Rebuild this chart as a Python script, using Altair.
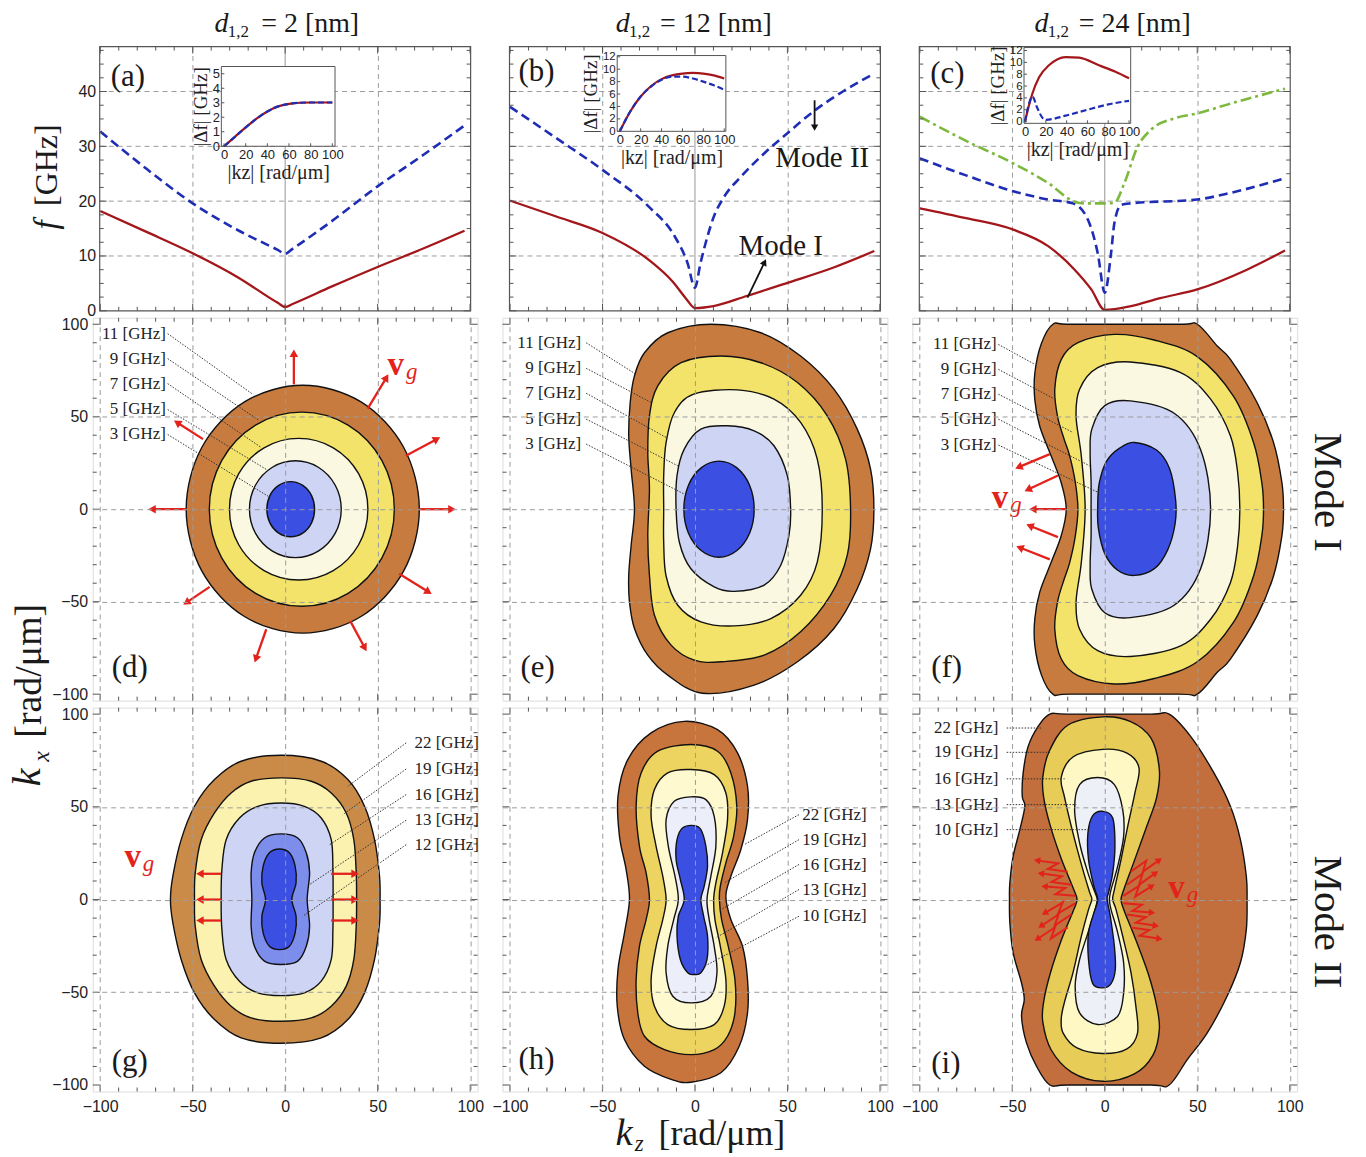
import numpy as np
import pandas as pd
import altair as alt

# ======================= DATA =======================
# --- top row: dispersion f(kz) [GHz] ---
A_KZ = [-100, -75, -50, -25, -4, 0, 4, 25, 50, 75, 97]
A_MODE1 = [18.2, 14.4, 10.5, 6.0, 1.45, 0.7, 1.25, 4.4, 8.0, 11.4, 14.6]
A_MODE2 = [32.7, 25.9, 19.6, 14.6, 11.1, 10.4, 11.3, 16.3, 22.7, 28.5, 33.8]

B_KZ1 = [-100, -75, -50, -25, -12, -5, 0, 5, 10, 28, 50, 75, 97]
B_MODE1 = [20.1, 17.2, 14.2, 9.3, 5.3, 2.3, 0.5, 0.6, 0.85, 2.7, 5.1, 7.9, 10.9]
B_KZ2 = [-100, -75, -50, -25, -11, -4, 0, 3, 6.8, 10, 15.8, 25, 37.4, 50, 65, 80, 97]
B_MODE2 = [37.2, 31.5, 25.7, 19.0, 13.6, 8.7, 4.2, 8.7, 13.6, 17.0, 20.8, 24.5, 28.7, 32.4, 36.6, 40.0, 43.3]

C_KZ1 = [-100, -75, -49.5, -30.6, -16.3, -7.3, 0, 14.2, 30, 50, 76.9, 97.5]
C_MODE1 = [18.7, 16.9, 14.8, 11.8, 7.5, 3.9, 0.15, 0.85, 2.3, 3.9, 7.5, 11.0]
C_KZ2 = [-100, -75, -49.5, -30.6, -17.2, -9.1, -3.8, 0, 3.4, 5.2, 8.8, 14.2, 50, 67.9, 97.5]
C_MODE2 = [27.8, 24.7, 21.8, 20.3, 19.6, 16.6, 10.5, 3.3, 10.5, 16.0, 19.3, 19.6, 20.3, 21.5, 24.2]
C_KZ3 = [-100, -75, -49.5, -30.6, -16.3, -10.9, 0, 5.2, 10.6, 17.7, 24.9, 37.5, 50, 67.9, 97.5]
C_MODE3 = [35.4, 31.0, 26.9, 23.3, 19.9, 19.6, 19.6, 19.7, 23.3, 29.9, 33.0, 35.1, 36.0, 37.8, 40.5]

# --- insets |Δf|(|kz|) ---
INSET_KZ = [0, 10, 20, 30, 40, 50, 60, 70, 80, 90, 100]
A_DF1 = [0, 0.65, 1.3, 1.9, 2.4, 2.75, 2.92, 3.0, 3.02, 3.02, 3.02]
A_DF2 = [0, 0.65, 1.3, 1.9, 2.4, 2.75, 2.92, 3.0, 3.02, 3.02, 3.02]
B_DF1 = [0, 3.2, 5.6, 7.3, 8.4, 9.0, 9.3, 9.4, 9.3, 9.0, 8.5]
B_DF2 = [0, 3.2, 5.6, 7.2, 8.3, 8.8, 8.8, 8.5, 8.0, 7.4, 6.7]
C_DF_KZ1 = [0, 3, 7, 13.5, 23, 39, 52, 71, 87, 100]
C_DF1 = [0, 2.2, 4.7, 7.5, 9.5, 10.9, 10.8, 9.5, 8.4, 7.3]
C_DF_KZ2 = [0, 3, 7, 12, 18, 20, 39, 60, 80, 100]
C_DF2 = [0, 2.5, 4.2, 2.2, 0.4, 0.3, 1.0, 2.0, 2.9, 3.5]

# --- iso-frequency contours (kz, kx), outer -> inner ---
D11 = [(9.5, 67), (41, 58), (64, 33.5), (72.5, 0), (64, -33.5), (41, -58), (9.5, -67), (-22, -58), (-45, -33.5), (-53.5, 0), (-45, 33.5), (-22, 58)]
D9 = [(9, 52.5), (34, 45.5), (52.3, 26.3), (59, 0), (52.3, -26.3), (34, -45.5), (9, -52.5), (-16, -45.5), (-34.3, -26.3), (-41, 0), (-34.3, 26.3), (-16, 45.5)]
D7 = [(7.3, 38.3), (26, 33.2), (39.7, 19.2), (44.7, 0), (39.7, -19.2), (26, -33.2), (7.3, -38.3), (-11.4, -33.2), (-25.1, -19.2), (-30.1, 0), (-25.1, 19.2), (-11.4, 33.2)]
D5 = [(5.5, 26.2), (17.9, 22.7), (27, 13.1), (30.3, 0), (27, -13.1), (17.9, -22.7), (5.5, -26.2), (-6.9, -22.7), (-16, -13.1), (-19.3, 0), (-16, 13.1), (-6.9, 22.7)]
D3 = [(3, 14.9), (9.5, 12.9), (14.2, 7.5), (15.9, 0), (14.2, -7.5), (9.5, -12.9), (3, -14.9), (-3.5, -12.9), (-8.2, -7.5), (-9.9, 0), (-8.2, 7.5), (-3.5, 12.9)]

E11 = [(8.6, 100), (35.6, 95.4), (57.1, 82.8), (75.1, 64.9), (87.7, 43.3), (94.9, 21.7), (96.7, 0), (94.9, -21.4), (87.7, -43), (75.1, -64.5), (55.4, -82.5), (32, -95.1), (4, -99.5), (-14.7, -89.7), (-25.5, -78.9), (-32.7, -64.5), (-35.4, -50.1), (-35.8, -35.8), (-34.5, -19.6), (-32.7, 0), (-34.5, 21.7), (-35.8, 39.7), (-35, 57.7), (-32.7, 72.1), (-27.3, 84.6), (-14.7, 95.4)]
E9 = [(14, 82.8), (35.6, 79.2), (55.4, 68.5), (71.5, 50.5), (81.4, 27.1), (84.1, 0), (82.3, -25), (73.3, -46.5), (57.1, -66.3), (37.4, -78.9), (14, -82.5), (-0.4, -81.6), (-12.9, -73.5), (-21.9, -57.3), (-24.6, -35.8), (-25.5, -14.2), (-24.6, 10.9), (-25.5, 30.7), (-24.6, 50.5), (-20.1, 66.7), (-7.5, 79.2)]
E7 = [(23, 64.5), (42.7, 59.5), (57.1, 46.9), (66.1, 27.1), (68.8, 0), (66.1, -28.6), (57.1, -46.5), (41, -59.1), (21.2, -63.1), (3.2, -60.9), (-9.3, -51.9), (-15.6, -36.1), (-16.9, -18), (-16.9, 0), (-16.9, 18.2), (-15.6, 36.1), (-11.1, 52.3), (-0.7, 62.2)]
E5 = [(17.6, 45.1), (32, 42.4), (42.7, 34.3), (49.9, 18.2), (51.7, 0), (50.8, -14.2), (46.3, -30.4), (37.4, -41), (21.2, -44.4), (10.4, -42), (-2.2, -32.2), (-8.4, -18), (-10.2, 0), (-9.7, 18.2), (-5.8, 32.5), (3.2, 43.3)]
E3 = [(13, 26), (22.5, 22.5), (29.5, 13), (32, 0), (29.5, -13), (22.5, -22.5), (13, -26), (3.5, -22.5), (-3.5, -13), (-6, 0), (-3.5, 13), (3.5, 22.5)]

F11 = [(-28, 100), (-18, 100), (40, 100), (50, 100), (60.8, 88.2), (67.9, 81), (82.3, 57.7), (91.2, 36.1), (95.7, 14.6), (96.6, 0), (95.7, -14.6), (91.2, -36.1), (82.3, -57.7), (67.9, -81), (60.8, -88.2), (50, -100), (40, -100), (-18, -100), (-28, -100), (-34.2, -89.7), (-37.8, -73.5), (-37.8, -59.1), (-35.1, -44.7), (-28.9, -28.6), (-23.5, -14.2), (-20.8, 0), (-23.5, 14.2), (-28.9, 28.6), (-35.1, 44.7), (-37.8, 59.1), (-37.8, 73.5), (-34.2, 89.7)]
F9 = [(5.2, 94.5), (26.7, 91.5), (50, 82.5), (69.7, 60.9), (80.5, 35.8), (84.9, 14.2), (85.8, 0), (84.9, -14.2), (80.5, -35.8), (69.7, -60.9), (50, -82.5), (26.7, -91.5), (5.2, -94.5), (-14.5, -90), (-23.5, -81), (-27, -65), (-25.5, -50), (-22, -38), (-19, -29), (-16, -15), (-14.5, 0), (-16, 15), (-19, 29), (-22, 38), (-25.5, 50), (-27, 65), (-23.5, 81), (-14.5, 90)]
F7 = [(13.8, 79.6), (41, 73.9), (57.2, 59.5), (67.9, 39.7), (71.8, 20), (73, 0), (71.8, -20), (67.9, -39.7), (57.2, -59.5), (41, -73.9), (13.8, -79.6), (-3.8, -76.5), (-13.6, -64.9), (-15.5, -50), (-12.7, -29), (-10.6, 0), (-12.7, 29), (-15.5, 50), (-13.6, 64.9), (-3.8, 76.5)]
F5 = [(13.8, 58.6), (37.5, 51.9), (51.8, 32.2), (57.2, 0), (51.8, -32.2), (37.5, -51.9), (13.8, -58.6), (0, -56), (-7, -43.3), (-7.9, -30.7), (-7.4, -15), (-7.4, 0), (-7.4, 15), (-7.9, 30.7), (-7, 43.3), (0, 56)]
F3 = [(16, 36.1), (28, 32), (35, 22), (38.3, 5), (38, -8), (34, -22), (27, -32), (16, -35.8), (7, -33), (0, -24), (-3.5, -10), (-3.8, 2), (-3, 14), (1, 26), (8, 33)]

G22 = [(-2.2, 77.8), (19.5, 74.6), (33.9, 64.7), (42.9, 50.3), (48.3, 32.3), (51, 12.6), (51.3, 0), (51, -12.6), (48.3, -32.3), (42.9, -50.3), (33.9, -64.7), (19.5, -74.6), (-2.2, -77.5), (-23.8, -74.6), (-38.2, -64.7), (-49, -50.3), (-56.2, -32.3), (-60.7, -12.6), (-62, 0), (-60.7, 12.6), (-56.2, 32.3), (-49, 50.3), (-38.2, 64.7), (-23.8, 74.6)]
G19 = [(-2.2, 65.6), (14.1, 63.8), (24.9, 57.5), (33, 46.7), (37.1, 32.3), (38.4, 14.4), (38.6, 0), (38.4, -14.4), (37.1, -32.3), (33, -46.7), (24.9, -57.5), (14.1, -63.8), (-2.2, -65.6), (-18.4, -63.8), (-29.2, -57.5), (-38.2, -46.7), (-45.4, -32.3), (-48.6, -14.4), (-49, 0), (-48.6, 14.4), (-45.4, 32.3), (-38.2, 46.7), (-29.2, 57.5), (-18.4, 63.8)]
G16 = [(-2.2, 52.1), (10.4, 50.3), (19.5, 44), (24.9, 32.3), (25.8, 16.2), (25.9, 0), (25.8, -16.2), (24.9, -32.3), (19.5, -44), (10.4, -50.3), (-2.2, -51.8), (-14.8, -50.3), (-24.7, -44), (-31.9, -32.3), (-34.2, -16.2), (-34.6, 0), (-34.2, 16.2), (-31.9, 32.3), (-24.7, 44), (-14.8, 50.3)]
G13 = [(-2.2, 35.4), (6.8, 33.2), (11.4, 25.2), (13.2, 14.4), (11.9, 0), (13.2, -14.4), (11.4, -25.2), (6.8, -33.2), (-2.2, -35), (-11.2, -33.2), (-16.6, -25.2), (-18.4, -14.4), (-18, 0), (-18.4, 14.4), (-16.6, 25.2), (-11.2, 33.2)]
G12 = [(-3.1, 27.3), (2.3, 25.2), (5.4, 18), (5.9, 9), (3.6, 0), (5.9, -9), (5.4, -18), (2.3, -25.2), (-3.1, -27), (-8.5, -25.2), (-11.9, -18), (-12.6, -9), (-10.6, 0), (-12.6, 9), (-11.9, 18), (-8.5, 25.2)]

H22 = [(-5.8, 96.1), (12.2, 91.6), (23, 79.1), (28.4, 61.1), (28.4, 43.1), (24.8, 27), (19.4, 12.6), (16.7, 1.8), (19.4, -10.8), (25.7, -25.2), (28.4, -43.1), (28.4, -61.1), (23.9, -79.1), (14, -93.4), (-2.2, -98.5), (-12.9, -97), (-27.3, -89.9), (-38.1, -75.5), (-42, -57.5), (-41.6, -37.7), (-38.1, -18), (-35.4, 0), (-37.2, 16.2), (-40.8, 34.1), (-41.6, 55.7), (-36.3, 75.5), (-23.7, 89.9)]
H19 = [(-2.2, 83.6), (12.2, 80), (19.4, 68.3), (22.6, 50.3), (20.9, 34.1), (16.7, 19.8), (13.7, 7.2), (13.2, 0), (14.4, -10.8), (18, -25.2), (21.6, -43.1), (21.6, -61.1), (17.6, -73.7), (10.4, -80.9), (-2.2, -83.6), (-16.5, -80.9), (-27.3, -73.7), (-30.9, -61.1), (-31.8, -43.1), (-30, -25.2), (-26.4, -10.8), (-24.6, 0), (-26.4, 14.4), (-30, 28.7), (-31.8, 50.3), (-29.1, 68.3), (-20.1, 80)]
H16 = [(-2.2, 70.1), (10.4, 67.4), (16.7, 57.5), (17.6, 43.1), (14.9, 25.2), (11.3, 9), (10.1, 0), (10.8, -10.8), (13.7, -25.2), (16.7, -43.1), (15.8, -57.5), (10.4, -67.4), (-2.2, -70.1), (-14.7, -67.4), (-21.9, -57.5), (-23.7, -43.1), (-21, -25.2), (-17.4, -10.8), (-15.6, 0), (-17.4, 12.6), (-21, 28.7), (-23.7, 44.9), (-21.9, 59.3), (-14.7, 68.3)]
H13 = [(-2.2, 55.4), (5.9, 53.9), (10.4, 44.9), (11.3, 28.7), (8.6, 12.6), (6.5, 0), (7.7, -10.8), (10.4, -25.2), (11.9, -39.5), (8.6, -52.1), (-2.2, -55.7), (-12, -52.1), (-15.6, -39.5), (-14.7, -25.2), (-11.5, -10.8), (-9, 0), (-10.8, 12.6), (-14.4, 28.7), (-15.6, 43.1), (-11.2, 53)]
H10 = [(-0.4, 39.9), (3.2, 37.7), (5.9, 28.7), (6.8, 18), (5, 7.2), (3.2, 0), (4.7, -9), (6.8, -19.8), (6.5, -32.3), (3.2, -39.5), (-0.4, -40.4), (-3.9, -39.5), (-7.9, -32.3), (-9.7, -19.8), (-9, -9), (-5.8, 0), (-7.9, 10.8), (-10.2, 21.6), (-9.7, 32.3), (-6.6, 38.7)]

I22 = [(-29.7, 100), (-20, 100), (25, 100), (34.8, 100), (46.4, 88), (59, 68.3), (67.9, 50.3), (73.3, 32.3), (76.5, 12.6), (76.9, 0), (76.5, -16.2), (73.3, -34.1), (66.1, -52.1), (55.4, -71.9), (44.6, -86.3), (34.8, -100), (25, -100), (-20, -100), (-29.7, -100), (-36.9, -89.9), (-42.3, -77.3), (-45, -62.9), (-43.5, -53.9), (-45, -44.9), (-49.5, -28.7), (-51.3, -12.6), (-51.5, 0), (-51.3, 9), (-49.5, 23.4), (-45.9, 37.7), (-43.2, 50.3), (-44.6, 55.7), (-44.1, 68.3), (-41.4, 82.6), (-36, 93.4)]
I19 = [(-1, 98.5), (14, 96), (25, 87), (29.5, 70), (28, 55), (22.5, 39), (16, 21), (10.5, 6), (8.8, 0), (10.5, -6), (16.5, -21), (23.5, -40), (28, -57), (29.5, -70), (26, -84), (16, -94), (-1, -98), (-18, -93), (-29, -81), (-33.5, -66), (-33, -55), (-29.5, -40), (-23.5, -22), (-17, -6), (-15, 0), (-17, 6), (-23.5, 22), (-29.5, 40), (-33, 55), (-33.5, 66), (-30, 80), (-20, 94)]
I16 = [(-1, 81), (12, 79), (18.5, 71), (16.3, 57.5), (12.4, 39.5), (8.8, 21.6), (5.2, 5.4), (4.3, 0), (6.1, -5.4), (9.7, -19.8), (14.2, -39.5), (16.8, -57.5), (17.7, -72), (12, -80.5), (-1, -83), (-15, -80), (-22.5, -72), (-23.5, -64), (-21.7, -55), (-17.2, -39.5), (-12.7, -20), (-8.8, -5.4), (-7, 0), (-8.2, 4), (-11.8, 16), (-17.2, 36), (-21.7, 55), (-23.5, 66), (-17, 77)]
I13 = [(-3.8, 65.8), (5.2, 62), (9.7, 48.5), (10.2, 34.1), (7, 18), (3.4, 5.4), (2.5, 0), (3.4, -5.4), (7, -18), (10.2, -34.1), (10.2, -50.3), (7, -62.9), (-3.8, -67.4), (-13.6, -61.1), (-16, -46.7), (-13.6, -32.3), (-9.1, -18), (-5.2, -5.4), (-4.1, 0), (-5.2, 3.6), (-9.1, 14.4), (-13.6, 30.5), (-16.3, 48.5), (-13.6, 62)]
I10 = [(-1.1, 47.6), (4.3, 44), (5.5, 28.7), (4.3, 14.4), (2, 3.6), (1.3, 0), (3, -9), (5.2, -25.2), (5.7, -37.7), (3.4, -45.3), (-1.1, -47.6), (-6.5, -45.3), (-8.8, -32.3), (-8.8, -18), (-5.9, -7.2), (-3.8, 0), (-5.9, 7.2), (-8.8, 21.6), (-9.1, 36), (-6.5, 45.3)]

# --- contour labels ---
MODE1_LABELS = ["11 [GHz]", "9 [GHz]", "7 [GHz]", "5 [GHz]", "3 [GHz]"]
GH_LABELS_G = ["22 [GHz]", "19 [GHz]", "16 [GHz]", "13 [GHz]", "12 [GHz]"]
GH_LABELS_HI = ["22 [GHz]", "19 [GHz]", "16 [GHz]", "13 [GHz]", "10 [GHz]"]
D_LAB_KX = [94.9, 81.4, 67.9, 53.9, 40.4]
D_LEAD_END = [(-17.3, 62), (-14.1, 48), (-13, 33.4), (-10.3, 21.6), (-9.2, 7)]
E_LAB_KX = [90, 76.2, 62.7, 48.7, 35.2]
E_LEAD_END = [(-31.8, 72.9), (-23.7, 57.7), (-15.6, 38.8), (-9.3, 23.5), (-5.8, 8.2)]
F_LAB_KX = [89.1, 75.6, 62.2, 48.7, 34.7]
F_LEAD_END = [(-37.8, 78.3), (-27, 59.5), (-17.2, 41.5), (-8.2, 23.5), (-3.8, 9.2)]
G_LAB_KX = [84.5, 70.4, 56.6, 42.8, 29.6]
G_LEAD_END = [(33.9, 61.1), (31.2, 45.8), (24, 29.6), (13.2, 8.1), (9.5, -9)]
H_LAB_KX = [45.8, 32.3, 18.9, 5.4, -9]
H_LEAD_END = [(26.6, 29.6), (15.8, 9), (14, -5.4), (11.3, -20.6), (5, -36)]
I_LAB_KX = [92.5, 79.4, 65.1, 51.2, 37.7]
I_LEAD_END = [(-34.2, 92.5), (-28.9, 79.4), (-21.7, 65.1), (-15.4, 51.2), (-9.1, 37.7)]

# --- group-velocity arrows (tail -> head) ---
D_ARROW_TAIL = [(4.7, 67.5), (44.6, 54.4), (65.2, 28.9), (72.4, 0), (61.6, -34.9), (35.2, -60.5), (-10.2, -64.9), (-40.8, -42.0), (-53.4, 0), (-44.4, 37.9)]
D_ARROW_HEAD = [(4.7, 83.7), (54.4, 70.6), (81.4, 37.6), (89.5, 0), (76.9, -44.4), (42.7, -74.4), (-15.6, -80.3), (-52.8, -50.1), (-71.3, 0), (-57.8, 46.5)]
F_ARROW_TAIL = [(-29.7, 29.8), (-25.3, 18.2), (-20.8, 0), (-25.3, -15.1), (-29.7, -27.1)]
F_ARROW_HEAD = [(-45.9, 23.0), (-40.9, 10.9), (-38.2, 0), (-39.9, -9.2), (-45.3, -21.0)]
G_ARROW_TAIL = [(-34.6, 13.9), (-34.6, 0), (-34.6, -11.3), (24.9, 13.9), (24.9, 0), (24.9, -11.3)]
G_ARROW_HEAD = [(-45.4, 13.9), (-45.4, 0), (-45.4, -11.3), (37.1, 13.9), (37.1, 0), (37.1, -11.3)]
I_BOLT_TAIL = [(-20, 15), (-18, 8), (-16, 2), (-20, -15), (-18, -8), (-16, -2), (14, 15), (12, 8), (10, 2), (14, -15), (12, -8), (10, -2)]
I_BOLT_HEAD = [(-36, 21), (-34, 14), (-32, 7), (-36, -21), (-34, -14), (-32, -7), (29, 21), (27, 14), (25, 7), (29, -21), (27, -14), (25, -7)]
B_MODE_ARROW_TAIL = [(64.7, 38.4), (28.4, 2.4)]
B_MODE_ARROW_HEAD = [(64.7, 33.6), (37.4, 8.7)]

# --- ticks ---
K_MAJOR = [-100, -50, 0, 50, 100]
K_MINOR = [-90, -80, -70, -60, -40, -30, -20, -10, 10, 20, 30, 40, 60, 70, 80, 90]
F_MAJOR = [0, 10, 20, 30, 40]
F_GRID = [10, 20, 30, 40]
F_MINOR = [2.5, 5, 7.5, 12.5, 15, 17.5, 22.5, 25, 27.5, 32.5, 35, 37.5, 42.5, 45, 47.5]
INSET_X_TICKS = [0, 20, 40, 60, 80, 100]
INSET_Y_TICKS_A = [0, 1, 2, 3, 4, 5]
INSET_Y_TICKS_BC = [0, 2, 4, 6, 8, 10, 12]

# ======================= STYLE / LAYOUT =======================
SERIF = "Liberation Serif"
SANS = "Liberation Sans"
INK = "#1a1a1a"
RED = "#A3161A"
BLUE = "#1E2DB4"
GREEN = "#7DB83F"
ARED = "#E3221C"
GRIDC = "#9C9C9C"
FRAMEC = "#555555"

PAL_D = ["#C77B3F", "#F3E36B", "#FAF8E0", "#CDD4F4", "#3B4FE2"]
PAL_G = ["#CB8B48", "#FAF2AE", "#CDD4F4", "#7D8DEC", "#3B4FE2"]
PAL_H = ["#C8743D", "#EDD35F", "#FEF9CF", "#ECEEF9", "#3B4FE2"]
PAL_I = ["#C26E3D", "#E7CC58", "#FDF8C4", "#EEF0F7", "#3B4FE2"]

W1, H1 = 372, 265          # top-row frame
W2, H2, H3 = 386, 384, 385  # contour frames
PADX = (W2 - W1) / 2        # top-row frame is centred in a W2-wide cell
X1_DOM = [-100.3, 100.3]
Y1_DOM = [0, 48.2]
XC_DOM = [-104, 104]
YC_DOM = [-103.5, 103.5]
LETTER_SIZE = 31
TICK_LABEL_SIZE = 16

ONE = pd.DataFrame({"o": [0]})


def sc(dom, rng=None):
    if rng is None:
        return alt.Scale(domain=dom, nice=False, zero=False)
    return alt.Scale(domain=dom, range=rng, nice=False, zero=False)


def tpx(text, x, y, size, font=SERIF, style="normal", weight="normal",
        align="center", baseline="alphabetic", angle=None, color=INK):
    kw = dict(text=text, font=font, fontSize=size, fontStyle=style,
              fontWeight=weight, align=align, baseline=baseline, color=color)
    if angle is not None:
        kw["angle"] = angle
    return alt.Chart(ONE).mark_text(**kw).encode(x=alt.value(x), y=alt.value(y))


def anchor(x, y):
    return alt.Chart(ONE).mark_point(size=4, filled=True, color="white", opacity=0).encode(
        x=alt.value(x), y=alt.value(y))


def frame_ticks(X, Y, x0, x1, H, xmaj, xmin, ymaj, ymin, L=7, l=4):
    out = []
    for vals, ln in ((xmaj, L), (xmin, l)):
        base = alt.Chart(pd.DataFrame({"x": vals})).mark_rule(color=FRAMEC, strokeWidth=1)
        out.append(base.encode(x=X("x"), y=alt.value(H), y2=alt.value(H - ln)))
        out.append(base.encode(x=X("x"), y=alt.value(0), y2=alt.value(ln)))
    for vals, ln in ((ymaj, L), (ymin, l)):
        base = alt.Chart(pd.DataFrame({"y": vals})).mark_rule(color=FRAMEC, strokeWidth=1)
        out.append(base.encode(y=Y("y"), x=alt.value(x0), x2=alt.value(x0 + ln)))
        out.append(base.encode(y=Y("y"), x=alt.value(x1), x2=alt.value(x1 - ln)))
    return out


def arrows(X, Y, tails, heads, color, sx=1.0, sy=1.0, sw=2.3, size=75):
    df = pd.DataFrame({"x": [t[0] for t in tails], "y": [t[1] for t in tails],
                       "x2": [h[0] for h in heads], "y2": [h[1] for h in heads]})
    df["ang"] = np.degrees(np.arctan2((df.x2 - df.x) * sx, (df.y2 - df.y) * sy)) % 360
    rule = alt.Chart(df).mark_rule(color=color, strokeWidth=sw).encode(
        x=X("x"), y=Y("y"), x2="x2", y2="y2")
    head = alt.Chart(df).mark_point(shape="triangle", filled=True, color=color,
                                    size=size, opacity=1).encode(
        x=X("x2"), y=Y("y2"), angle=alt.Angle("ang:Q", scale=None))
    return [rule, head]


def bolts(X, Y, tails, heads, color):
    rows, hd = [], []
    for k, (t, h) in enumerate(zip(tails, heads)):
        t = np.array(t, float)
        h = np.array(h, float)
        d = h - t
        n = np.array([-d[1], d[0]]) / np.hypot(*d)
        pts = [t, t + 0.62 * d + 2.4 * n, t + 0.38 * d - 2.4 * n, h]
        for i, p in enumerate(pts):
            rows.append({"id": k, "i": i, "x": p[0], "y": p[1]})
        last = h - pts[2]
        hd.append({"x2": h[0], "y2": h[1],
                   "ang": float(np.degrees(np.arctan2(last[0], last[1])) % 360)})
    line = alt.Chart(pd.DataFrame(rows)).mark_line(color=color, strokeWidth=2).encode(
        x=X("x"), y=Y("y"), detail="id:N", order=alt.Order("i:Q"))
    head = alt.Chart(pd.DataFrame(hd)).mark_point(shape="triangle", filled=True, color=color,
                                                  size=55, opacity=1).encode(
        x=X("x2"), y=Y("y2"), angle=alt.Angle("ang:Q", scale=None))
    return [line, head]


def vg(x, y):
    return [tpx("v", x, y, 33, weight="bold", color=ARED),
            tpx("g", x + 16, y + 4, 23, style="italic", color=ARED)]


# ---------------------- top row ----------------------
def inset_layer(xl, xr, yt, yb, xdom, ydom, yvals, curves, ylabsize):
    xl, xr = xl + PADX, xr + PADX
    axx = alt.Axis(orient="bottom", offset=-(H1 - yb), values=INSET_X_TICKS, labelFont=SANS,
                   labelFontSize=13, labelColor="#222", labelPadding=2, ticks=False,
                   domain=False, grid=False, title="|kz| [rad/μm]", titleFont=SERIF,
                   titleFontSize=20, titleFontWeight="normal", titleColor="#222",
                   titlePadding=1, zindex=2)
    axy = alt.Axis(orient="left", offset=-xl, values=yvals, labelFont=SANS,
                   labelFontSize=ylabsize, labelColor="#222", labelPadding=2, ticks=False,
                   domain=False, grid=False, title="|Δf| [GHz]", titleFont=SERIF,
                   titleFontSize=19, titleFontWeight="normal", titleColor="#222",
                   titlePadding=2, zindex=2)
    XS, YS = sc(xdom, [xl, xr]), sc(ydom, [yb, yt])

    def X(f):
        return alt.X(f, type="quantitative", scale=XS, axis=axx)

    def Y(f):
        return alt.Y(f, type="quantitative", scale=YS, axis=axy)

    layers = [alt.Chart(ONE).mark_rect(fill="white", stroke=FRAMEC, strokeWidth=1).encode(
        x=alt.value(xl), x2=alt.value(xr), y=alt.value(yt), y2=alt.value(yb))]
    for kz, df_, color, dash in curves:
        mk = dict(color=color, strokeWidth=2.2, interpolate="monotone")
        if dash:
            mk["strokeDash"] = dash
        layers.append(alt.Chart(pd.DataFrame({"x": kz, "y": df_})).mark_line(**mk).encode(
            x=X("x"), y=Y("y")))
    layers.append(alt.Chart(pd.DataFrame({"x": INSET_X_TICKS})).mark_rule(
        color=FRAMEC, strokeWidth=1).encode(x=X("x"), y=alt.value(yb), y2=alt.value(yb - 3)))
    layers.append(alt.Chart(pd.DataFrame({"y": yvals})).mark_rule(
        color=FRAMEC, strokeWidth=1).encode(y=Y("y"), x=alt.value(xl), x2=alt.value(xl + 3)))
    return alt.layer(*layers)


def top_panel(series, inset, letter, letter_xy, left, extra):
    x0, x1 = PADX, PADX + W1
    axx = alt.Axis(values=[-50, 50], grid=True, gridDash=[5, 4], gridColor=GRIDC, labels=False,
                   ticks=False, domain=False, title=None)
    axy = alt.Axis(values=F_MAJOR, grid=False, offset=-x0,
                   labels=left, labelFont=SANS, labelFontSize=TICK_LABEL_SIZE, labelColor="#222",
                   labelPadding=4, ticks=False, domain=False, title=None)

    def X(f):
        return alt.X(f, type="quantitative", scale=sc(X1_DOM, [x0, x1]), axis=axx)

    def Y(f):
        return alt.Y(f, type="quantitative", scale=sc(Y1_DOM), axis=axy)

    layers = [
        alt.Chart(pd.DataFrame({"y": F_GRID})).mark_rule(
            color=GRIDC, strokeWidth=1, strokeDash=[5, 4]).encode(
            y=Y("y"), x=alt.value(x0), x2=alt.value(x1)),
        alt.Chart(pd.DataFrame({"x": [0]})).mark_rule(color="#8c8c8c", strokeWidth=0.9).encode(x=X("x")),
    ]
    for kz, f, color, dash, width in series:
        mk = dict(color=color, strokeWidth=width, interpolate="monotone")
        if dash:
            mk["strokeDash"] = dash
        layers.append(alt.Chart(pd.DataFrame({"x": kz, "y": f})).mark_line(**mk).encode(x=X("x"), y=Y("y")))
    layers += frame_ticks(X, Y, x0, x1, H1, K_MAJOR, K_MINOR, F_MAJOR, F_MINOR)
    layers.append(alt.Chart(ONE).mark_rect(fill="white", fillOpacity=0, stroke=FRAMEC, strokeWidth=1.2).encode(
        x=alt.value(x0), x2=alt.value(x1), y=alt.value(0), y2=alt.value(H1)))
    layers += extra(X, Y)
    layers.append(tpx(letter, letter_xy[0] + x0, letter_xy[1], LETTER_SIZE, align="left"))
    main = alt.layer(*layers)
    return alt.layer(main, inset_layer(**inset)).resolve_scale(
        x="independent", y="independent").properties(
        width=W2, height=H1, view=alt.ViewBackground(stroke="transparent"))


def col_title(num, xd, xs, xr):
    return [tpx("d", xd + PADX, -15, 28, style="italic"),
            tpx("1,2", xs + PADX, -10, 17),
            tpx("= " + num + " [nm]", xr + PADX, -15, 28, align="left")]


def extra_a(X, Y):
    return col_title("2", 122, 139, 162) + [
        tpx("[GHz]", -53 + PADX, 119, 32, baseline="middle", angle=270),
        tpx("f", -53 + PADX, 179, 33, style="italic", baseline="middle", angle=270)]


def extra_b(X, Y):
    mode_txt = pd.DataFrame({"x": [68.8, 46.4], "y": [27.8, 11.8], "t": ["Mode II", "Mode I"]})
    return col_title("12", 113.5, 130.5, 151) + [
        alt.Chart(mode_txt).mark_text(font=SERIF, fontSize=29, baseline="middle", color=INK).encode(
            x=X("x"), y=Y("y"), text="t:N")
    ] + arrows(X, Y, B_MODE_ARROW_TAIL, B_MODE_ARROW_HEAD, "#111", sx=1.86, sy=5.5, sw=1.8, size=55)


def extra_c(X, Y):
    return col_title("24", 122.5, 139.5, 160)


panel_a = top_panel(
    [(A_KZ, A_MODE1, RED, None, 2.3), (A_KZ, A_MODE2, BLUE, [9, 5], 2.6)],
    dict(xl=122, xr=236, yt=20, yb=100, xdom=[-2.5, 102.5], ydom=[0, 5.5],
         yvals=INSET_Y_TICKS_A, ylabsize=13,
         curves=[(INSET_KZ, A_DF1, RED, None), (INSET_KZ, A_DF2, BLUE, [6, 3])]),
    "(a)", (11, 40), True, extra_a)

panel_b = top_panel(
    [(B_KZ1, B_MODE1, RED, None, 2.3), (B_KZ2, B_MODE2, BLUE, [9, 5], 2.6)],
    dict(xl=108, xr=217, yt=9, yb=85, xdom=[-2.5, 101.6], ydom=[0, 12.2],
         yvals=INSET_Y_TICKS_BC, ylabsize=11.5,
         curves=[(INSET_KZ, B_DF1, RED, None), (INSET_KZ, B_DF2, BLUE, [6, 3])]),
    "(b)", (9, 35), False, extra_b)

panel_c = top_panel(
    [(C_KZ1, C_MODE1, RED, None, 2.3), (C_KZ2, C_MODE2, BLUE, [9, 5], 2.6),
     (C_KZ3, C_MODE3, GREEN, [11, 4, 3, 4], 2.6)],
    dict(xl=105, xr=212, yt=1, yb=77, xdom=[-1, 101.6], ydom=[-0.3, 12.5],
         yvals=INSET_Y_TICKS_BC, ylabsize=11.5,
         curves=[(C_DF_KZ1, C_DF1, RED, None), (C_DF_KZ2, C_DF2, BLUE, [6, 3])]),
    "(c)", (11, 37), False, extra_c)


# ---------------------- contour rows ----------------------
def contour_panel(contours, colors, labels, lab_kx, lab_kz, lab_align, lead_start, lead_end,
                  letter, letter_xy, left, bottom, H, extra):
    axx = alt.Axis(values=K_MAJOR, grid=True, gridDash=[5, 4], gridColor=GRIDC, gridWidth=1,
                   labels=bottom, labelFont=SANS, labelFontSize=TICK_LABEL_SIZE, labelColor="#222",
                   labelPadding=7, ticks=False, domain=False, title=None, zindex=1)
    axy = alt.Axis(values=K_MAJOR, grid=True, gridDash=[5, 4], gridColor=GRIDC, gridWidth=1,
                   gridOpacity={"condition": {"test": "abs(datum.value) > 99", "value": 0}, "value": 1},
                   labels=left, labelFont=SANS, labelFontSize=TICK_LABEL_SIZE, labelColor="#222",
                   labelPadding=5, ticks=False, domain=False, title=None, zindex=1)

    def X(f):
        return alt.X(f, type="quantitative", scale=sc(XC_DOM), axis=axx)

    def Y(f):
        return alt.Y(f, type="quantitative", scale=sc(YC_DOM), axis=axy)

    layers = []
    for pts, col in zip(contours, colors):
        df = pd.DataFrame(pts, columns=["x", "y"])
        df["i"] = np.arange(len(df))
        layers.append(alt.Chart(df).mark_line(
            fill=col, stroke="#111", strokeWidth=1.4, interpolate="cardinal-closed", clip=True
        ).encode(x=X("x"), y=Y("y"), order=alt.Order("i:Q")))
    layers += frame_ticks(X, Y, 0, W2, H, K_MAJOR, K_MINOR, K_MAJOR, K_MINOR)
    ld = pd.DataFrame({"x": [lead_start] * len(lab_kx), "y": lab_kx,
                       "x2": [e[0] for e in lead_end], "y2": [e[1] for e in lead_end]})
    layers.append(alt.Chart(ld).mark_rule(color="#333", strokeWidth=1, strokeDash=[1.5, 1.5]).encode(
        x=X("x"), y=Y("y"), x2="x2", y2="y2"))
    lb = pd.DataFrame({"x": [lab_kz] * len(lab_kx), "y": lab_kx, "t": labels})
    layers.append(alt.Chart(lb).mark_text(font=SERIF, fontSize=17, align=lab_align, baseline="middle",
                                          color="#222").encode(x=X("x"), y=Y("y"), text="t:N"))
    layers += extra(X, Y)
    layers.append(tpx(letter, letter_xy[0], letter_xy[1], LETTER_SIZE, align="left"))
    return alt.layer(*layers).properties(width=W2, height=H)


def extra_d(X, Y):
    return [anchor(-91, -315)] + arrows(X, Y, D_ARROW_TAIL, D_ARROW_HEAD, ARED) + vg(304, 57) + [
        tpx("[rad/μm]", -63, 354, 38, baseline="middle", angle=270),
        tpx("k", -65, 461, 41, style="italic", baseline="middle", angle=270),
        tpx("x", -51, 440, 24, style="italic", baseline="middle", angle=270)]


def extra_e(X, Y):
    return []


def extra_f(X, Y):
    return arrows(X, Y, F_ARROW_TAIL, F_ARROW_HEAD, ARED) + vg(88, 191) + [
        tpx("Mode I", W2 + 30, 175, 41, baseline="middle", angle=90)]


def extra_g(X, Y):
    return arrows(X, Y, G_ARROW_TAIL, G_ARROW_HEAD, ARED) + vg(40, 160)


def extra_h(X, Y):
    return [tpx("k", 122, 439, 39, style="italic"),
            tpx("z", 137, 445, 23, style="italic"),
            tpx("[rad/μm]", 220, 439, 36)]


def extra_i(X, Y):
    return bolts(X, Y, I_BOLT_TAIL, I_BOLT_HEAD, ARED) + vg(265, 191) + [
        tpx("Mode II", W2 + 30, 215, 41, baseline="middle", angle=90),
        anchor(1366 - 913, 1157 - 706)]


panel_d = contour_panel([D11, D9, D7, D5, D3], PAL_D, MODE1_LABELS, D_LAB_KX, -64.5, "right", -63.5,
                        D_LEAD_END, "(d)", (19, 360), True, False, H2, extra_d)
panel_e = contour_panel([E11, E9, E7, E5, E3], PAL_D, MODE1_LABELS, E_LAB_KX, -61.5, "right", -58.8,
                        E_LEAD_END, "(e)", (18, 360), False, False, H2, extra_e)
panel_f = contour_panel([F11, F9, F7, F5, F3], PAL_D, MODE1_LABELS, F_LAB_KX, -58.4, "right", -57.5,
                        F_LEAD_END, "(f)", (19, 360), False, False, H2, extra_f)
panel_g = contour_panel([G22, G19, G16, G13, G12], PAL_G, GH_LABELS_G, G_LAB_KX, 69.9, "left", 65.4,
                        G_LEAD_END, "(g)", (19, 364), True, True, H3, extra_g)
panel_h = contour_panel([H22, H19, H16, H13, H10], PAL_H, GH_LABELS_HI, H_LAB_KX, 58.0, "left", 56.2,
                        H_LEAD_END, "(h)", (16, 362), False, True, H3, extra_h)
panel_i = contour_panel([I22, I19, I16, I13, I10], PAL_I, GH_LABELS_HI, I_LAB_KX, -57.5, "right", -53,
                        I_LEAD_END, "(i)", (19, 366), False, True, H3, extra_i)

chart = alt.concat(
    panel_a, panel_b, panel_c, panel_d, panel_e, panel_f, panel_g, panel_h, panel_i,
    columns=3, spacing={"row": 7, "column": 25}, bounds="flush", align="each",
    padding=0,
).configure_view(stroke=FRAMEC, strokeWidth=1.2).configure(background="white")

chart.save("out.html", embed_options={"renderer": "svg", "actions": False})
